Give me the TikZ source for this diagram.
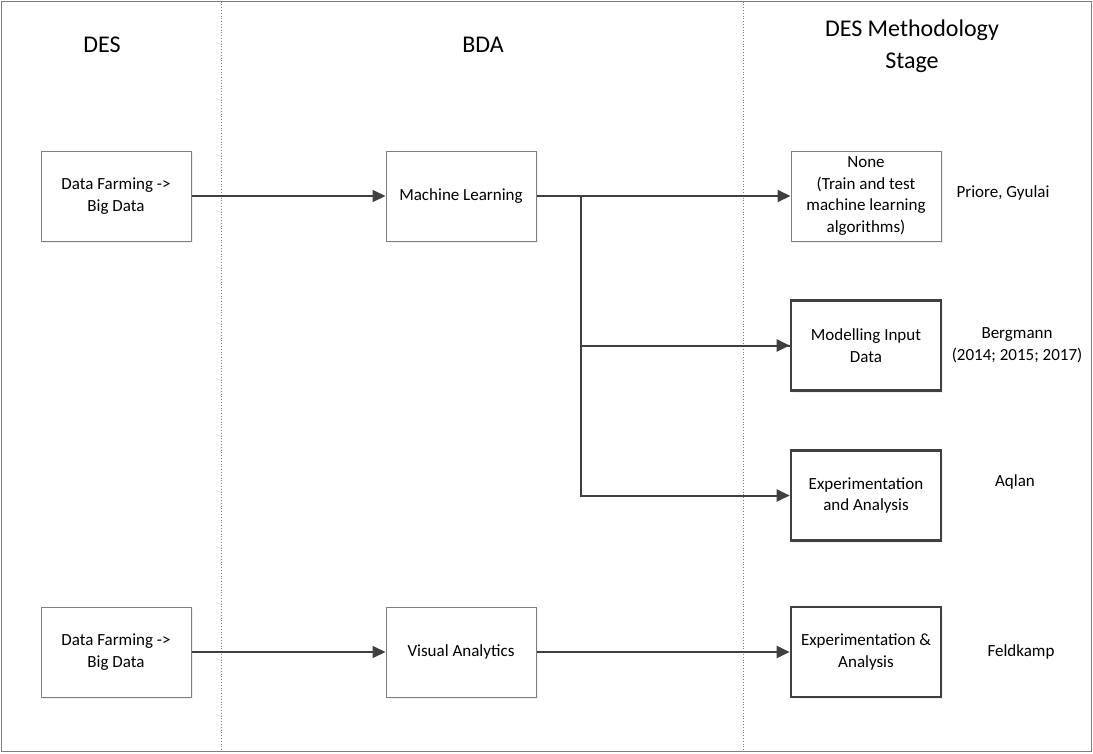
\documentclass[tikz,border=0pt]{standalone}
\usepackage{fontspec}
\setmainfont{Carlito}
\usetikzlibrary{arrows.meta,shadows}
\definecolor{ln}{HTML}{404040}
\definecolor{fr}{HTML}{7F7F7F}
\tikzset{
  box/.style={draw=fr, line width=1pt, fill=white, minimum width=150pt, minimum height=90pt,
    align=center, font=\fontsize{17}{21.5}\selectfont, inner sep=2pt,
    drop shadow={opacity=0.12, shadow xshift=2pt, shadow yshift=-2pt}},
  thickbox/.style={box, draw=ln, line width=2.6pt},
  lbl/.style={align=center, font=\fontsize{17}{21.5}\selectfont},
  hdr/.style={align=center, font=\fontsize{24}{32}\selectfont},
  conn/.style={draw=ln, line width=2pt},
  arr/.style={conn, -{Triangle[length=13pt,width=12pt]}},
  lane/.style={draw=fr, line width=0.8pt, dotted}
}
\begin{document}
\begin{tikzpicture}[x=1pt,y=-1pt]
\useasboundingbox (0,0) rectangle (1093,753);
\draw[draw=fr, line width=1.2pt] (1.5,1.5) rectangle (1091.5,751.5);
\coordinate (l1t) at (221,1.5); \coordinate (l1b) at (221,751.5);
\coordinate (l2t) at (743,1.5); \coordinate (l2b) at (743,751.5);
\draw[lane] (l1t) -- (l1b);
\draw[lane] (l2t) -- (l2b);

\node[hdr] (hdes) at (102,45) {DES};
\node[hdr] (hbda) at (483,45) {BDA};
\node[hdr] (hstage) at (912,46) {DES Methodology\\Stage};

\node[box] (df1) at (116,196) {Data Farming ->\\Big Data};
\node[box] (ml) at (461,196) {Machine Learning};
\node[box] (none) at (866,196) {None\\(Train and test\\machine learning\\algorithms)};
\node[thickbox] (mid) at (866,345.5) {Modelling Input\\Data};
\node[thickbox] (exp) at (866,495.5) {Experimentation\\and Analysis};

\node[box] (df2) at (116,652) {Data Farming ->\\Big Data};
\node[box] (va) at (461,652) {Visual Analytics};
\node[thickbox] (exp2) at (866,652) {Experimentation \&\\Analysis};

\node[lbl] (pg) at (1003,193) {Priore, Gyulai};
\node[lbl] (berg) at (1017,345) {Bergmann\\(2014; 2015; 2017)};
\node[lbl] (aq) at (1015,482) {Aqlan};
\node[lbl] (fk) at (1021,652) {Feldkamp};

\coordinate (br) at (581,196);
\draw[arr] (df1.east) -- (ml.west);
\draw[arr] (ml.east) -- (none.west);
\draw[conn] (br) |- (mid.west);
\draw[arr] (br) |- (exp.west);
\draw[arr] (br |- mid.west) -- (mid.west);
\draw[arr] (df2.east) -- (va.west);
\draw[arr] (va.east) -- (exp2.west);
\end{tikzpicture}
\end{document}
